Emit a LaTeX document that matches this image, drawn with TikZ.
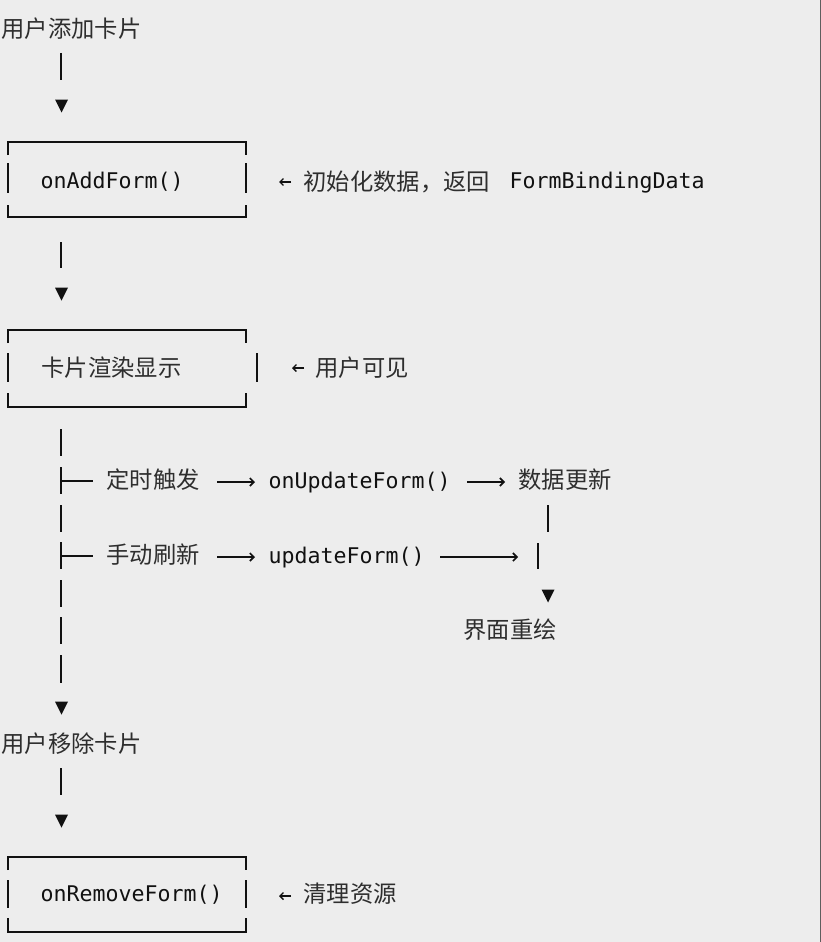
\documentclass[tikz,border=0pt]{standalone}
\usepackage{fontspec}
\setmonofont{DejaVu Sans Mono}
\newfontfamily\cjkfont{Noto Sans CJK SC}
\usetikzlibrary{arrows.meta}
\definecolor{bg}{HTML}{EDEDED}
\definecolor{ink}{HTML}{111111}
\definecolor{cjkink}{HTML}{2E2E2E}
\definecolor{edge}{HTML}{5E5E5E}
\begin{document}
\begin{tikzpicture}[x=1pt,y=-1pt,
  cjk/.style={font=\cjkfont\fontsize{23.3}{28}\selectfont, text=cjkink, anchor=base west, inner sep=0pt, outer sep=0pt},
  code/.style={font=\ttfamily\fontsize{21.6}{26}\selectfont, text=ink, anchor=base west, inner sep=0pt, outer sep=0pt},
  bar/.style={draw=ink, line width=2pt},
  boxln/.style={draw=ink, line width=2pt},
  arr/.style={draw=ink, line width=1.6pt, -{Straight Barb[length=4pt,width=8pt]}},
  sarr/.style={draw=ink, line width=1.4pt, -{Straight Barb[length=3.5pt,width=7pt]}},
  dtri/.pic={\fill[ink] (-6.5,-6.5) -- (6.5,-6.5) -- (0,6.5) -- cycle;}
]
\useasboundingbox (0,0) rectangle (821,942);
\fill[bg] (0,0) rectangle (821,942);
\draw[edge, line width=1.3pt] (820.3,0) -- (820.3,942);

% ---- start
\node[cjk] (start) at (1.6,37.9) {用户添加卡片};
\draw[bar] (61,53) -- (61,80);
\pic at (61.5,106) {dtri};

% ---- box 1
\draw[boxln] (8,155) -- (8,142) -- (246,142) -- (246,155);
\draw[boxln] (8,163) -- (8,193);
\draw[boxln] (246,163) -- (246,193);
\draw[boxln] (8,205) -- (8,217) -- (246,217) -- (246,205);
\node[code] (add) at (40.7,188.8) {onAddForm()};
\coordinate (a1) at (291,182);
\coordinate (a1t) at (279,182);
\draw[sarr] (a1) -- (a1t);
\node[cjk] (init) at (303.6,190.9) {初始化数据，返回};
\node[code] (fbd) at (509.5,188.8) {FormBindingData};

\draw[bar] (61,242) -- (61,268);
\pic at (61.5,294) {dtri};

% ---- box 2
\draw[boxln] (8,343) -- (8,330) -- (246,330) -- (246,343);
\draw[boxln] (8,353) -- (8,382);
\draw[boxln] (257,353) -- (257,382);
\draw[boxln] (8,393) -- (8,407) -- (246,407) -- (246,393);
\node[cjk] (show) at (41.6,376.9) {卡片渲染显示};
\coordinate (a2) at (304,368);
\coordinate (a2t) at (292,368);
\draw[sarr] (a2) -- (a2t);
\node[cjk] (vis) at (315.6,376.9) {用户可见};

% ---- trunk
\draw[bar] (61,429) -- (61,456);
\draw[bar] (61,467) -- (61,494);
\draw[bar] (61,481) -- (93,481);
\node[cjk] (timer) at (106.6,488.9) {定时触发};
\node[code] (upd) at (268.7,488.8) {onUpdateForm()};
\node[cjk] (data) at (518.6,488.9) {数据更新};
\draw[arr] (217,482) -- (255,482);
\draw[arr] (467,482) -- (505,482);

\draw[bar] (61,505) -- (61,532);
\draw[bar] (548,505) -- (548,532);

\draw[bar] (61,542) -- (61,569);
\draw[bar] (61,556) -- (93,556);
\node[cjk] (manual) at (106.6,563.9) {手动刷新};
\node[code] (upf) at (268.7,563.8) {updateForm()};
\draw[arr] (217,557) -- (255,557);
\coordinate (j2) at (538,556);
\draw[arr] (440,557) -- (518,557);
\draw[bar] (538,543) -- (538,569);

\draw[bar] (61,580) -- (61,607);
\pic at (548,596) {dtri};
\draw[bar] (61,617) -- (61,644);
\node[cjk] (redraw) at (463.6,638.9) {界面重绘};
\draw[bar] (61,655) -- (61,683);
\pic at (61.5,708) {dtri};

% ---- remove
\node[cjk] (remove) at (1.6,752.9) {用户移除卡片};
\draw[bar] (61,768) -- (61,795);
\pic at (61.5,821) {dtri};

% ---- box 3
\draw[boxln] (8,870) -- (8,857) -- (246,857) -- (246,870);
\draw[boxln] (8,880) -- (8,908);
\draw[boxln] (246,880) -- (246,908);
\draw[boxln] (8,918) -- (8,932) -- (246,932) -- (246,918);
\node[code] (rm) at (40.7,901.8) {onRemoveForm()};
\coordinate (a3) at (291,896);
\coordinate (a3t) at (279,896);
\draw[sarr] (a3) -- (a3t);
\node[cjk] (clean) at (303.6,902.9) {清理资源};
\end{tikzpicture}
\end{document}
